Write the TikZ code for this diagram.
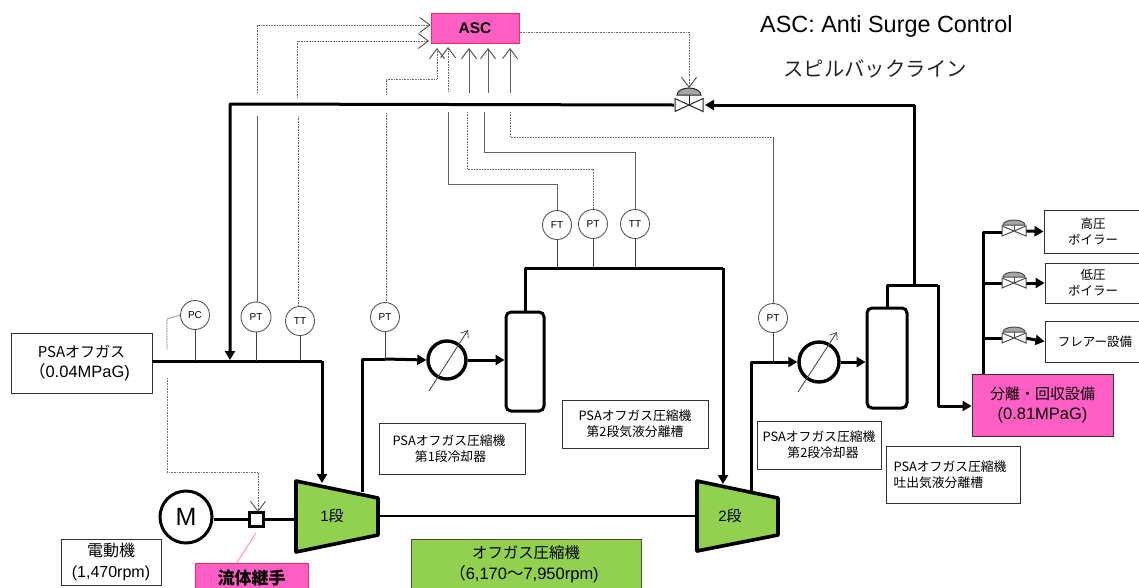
\documentclass[tikz,border=0pt]{standalone}
\usepackage{fontspec}
\setmainfont{Liberation Sans}
\newfontfamily\jp{Noto Sans CJK JP}
\usetikzlibrary{arrows.meta,calc}
\definecolor{pinkfill}{HTML}{FF5FC4}
\definecolor{redline}{HTML}{FF2A50}
\definecolor{greenfill}{HTML}{92D050}
\newcommand{\fs}[1]{\fontsize{#1}{#1}\selectfont}
\tikzset{
  pipe/.style={line width=3pt,line join=round,black},
  pipearrow/.style={pipe,-{Triangle[length=9pt,width=10pt]}},
  shaft/.style={line width=2.6pt,black},
  sigdot/.style={line width=.8pt,gray!85!black,dash pattern=on 1pt off .6pt},
  sigsolid/.style={line width=.8pt,gray!75!black},
  barb/.style={-{Straight Barb[length=10pt,width=15pt,line width=.9pt,black!70]}},
  stem/.style={line width=1pt,black!75},
  inst/.style={circle,draw=black!65,line width=.9pt,fill=white,minimum size=29pt,inner sep=0pt,font=\fs{10}},
  tag/.style={draw=black!80,line width=.9pt,fill=white,align=center,inner sep=0pt,font=\fs{12.8}\jp,execute at begin node={\baselineskip=16pt}},
  bigtag/.style={tag,font=\fs{16.5},execute at begin node={\baselineskip=20.5pt}},
  comp/.style={draw=black,line width=3.6pt,line join=round,fill=greenfill},
  hx/.style={circle,draw=black,line width=3.4pt,fill=white,minimum size=38pt,inner sep=0pt},
  vessel/.style={draw=black,line width=3pt,rounded corners=5pt,fill=white,inner sep=0pt},
  diag/.style={line width=.9pt,black!70,-{Straight Barb[length=6pt,width=9pt,line width=.8pt]}},
  pics/mainvalve/.style={code={
    \draw[line width=1pt,black!85,fill=white] (-14,-6.5) -- (14,6.5) -- (14,-6.5) -- (-14,6.5) -- cycle;
    \draw[line width=1pt,black!85] (0,0) -- (0,-10);
    \draw[line width=1pt,black!85,fill=black!35] (-12,-10) arc (180:0:12 and -7) -- cycle;
  }},
  pics/smallvalve/.style={code={
    \draw[line width=1pt,black!70,fill=white] (-12,-5) -- (12,5) -- (12,-5) -- (-12,5) -- cycle;
    \draw[line width=1pt,black!70] (0,0) -- (0,-6);
    \draw[line width=1pt,black!70,fill=black!35] (-11,-6) arc (180:0:11 and -5) -- cycle;
  }}
}
\begin{document}
\begin{tikzpicture}[x=1pt,y=-1pt]
\path[use as bounding box,clip] (0,0) rectangle (1139,587);

% titles
\node[anchor=west,inner sep=0pt,font=\fs{23.4}] (title) at (760,26) {ASC: Anti Surge Control};
\node[anchor=west,inner sep=0pt,font=\fs{20.4}\jp\color{black!85}] (spill) at (783,69) {スピルバックライン};

% equipment nodes
\node[draw=redline,line width=1pt,fill=pinkfill,minimum width=88pt,minimum height=30pt,inner sep=0pt,font=\fs{15.5}\bfseries] (asc) at (475,28) {ASC};
\node[bigtag,minimum width=141pt,minimum height=60pt] (psa) at (81.5,363) {{\jp\fs{15}PSAオフガス}\\{\jp\hspace{-4pt}（}0.04MPaG)};
\node[bigtag,minimum width=100pt,minimum height=46pt,font=\fs{16}] (motbox) at (111,562) {{\jp 電動機}\\(1,470rpm)};
\node[circle,draw=black,line width=3pt,fill=white,minimum size=52pt,inner sep=0pt,font=\fs{25}] (mot) at (186,517) {M};
\node[draw=black,line width=3pt,fill=white,minimum size=14pt,inner sep=0pt] (cpl) at (256,519.5) {};
\node[draw=redline,line width=1pt,fill=pinkfill,minimum width=113pt,minimum height=30pt,inner sep=0pt,font=\fs{17}\jp\bfseries] (fluid) at (251.5,578) {流体継手};

\node[inst] (pc) at (195,315) {PC};
\node[inst,minimum size=30pt] (pt1) at (256,317) {PT};
\node[inst] (tt1) at (300,321) {TT};
\node[inst] (pt2) at (385,317) {PT};
\node[inst] (ft) at (557,225) {FT};
\node[inst] (pt3) at (593,224) {PT};
\node[inst] (tt2) at (635,224) {TT};
\node[inst] (pt4) at (773,318) {PT};

\node[hx] (hx1) at (447,360) {};
\node[hx,minimum size=40pt] (hx2) at (819,362) {};
\node[vessel,minimum width=38pt,minimum height=99pt] (v1) at (525,361.5) {};
\node[vessel,minimum width=40pt,minimum height=100pt] (v2) at (887,358) {};

\node[tag,minimum width=146pt,minimum height=51pt] (tag1) at (452,448.5) {\hspace*{-6pt}PSAオフガス圧縮機\\第1段冷却器\hspace*{3pt}};
\node[tag,minimum width=146pt,minimum height=48pt] (tag2) at (635,424) {PSAオフガス圧縮機\\第2段気液分離槽};
\node[tag,minimum width=124pt,minimum height=48pt] (tag3) at (819,445) {PSAオフガス圧縮機\\\hspace*{8pt}第2段冷却器};
\node[tag,minimum width=134pt,minimum height=57pt,align=left] (tag4) at (953,474.5) {\hspace*{-6pt}PSAオフガス圧縮機\\\hspace*{-6pt}吐出気液分離槽};
\node[bigtag,fill=pinkfill,minimum width=141pt,minimum height=62pt] (sep) at (1042.5,405) {{\jp\fs{15}分離・回収設備}\\(0.81MPaG)};
\node[tag,minimum width=98pt,minimum height=43pt,font=\fs{12.5}\jp] (hb) at (1093,231.5) {高圧\\ボイラー};
\node[tag,minimum width=96pt,minimum height=40pt,font=\fs{12.5}\jp] (lb) at (1093,283) {低圧\\ボイラー};
\node[tag,minimum width=100pt,minimum height=41pt,font=\fs{12.5}\jp] (fl) at (1095,341.5) {フレアー設備};
\node[bigtag,draw=black!70,fill=greenfill,minimum width=230pt,minimum height=50pt] (mc) at (526,564) {{\jp\fs{15.4}オフガス圧縮機}\\{\jp\hspace{-4pt}（}6,170{\jp 〜}7,950rpm)};

% valves
\coordinate (vb) at (689,105);
\coordinate (vh) at (1014,231);
\coordinate (vl) at (1014,283);
\coordinate (vf) at (1014,338);

% shaft
\draw[shaft] (mot.east |- cpl) -- (cpl.west);
\draw[shaft] (cpl.east) -- (296,519.5);
\draw[shaft] (378,516) -- (697,516);

% compressors
\draw[comp] (296,481) -- (378,498) -- (378,535) -- (296,552) -- cycle;
\node[font=\fs{15}] (s1) at (332,516) {1{\jp 段}};
\draw[comp] (697,481) -- (778,498) -- (778,535) -- (697,551) -- cycle;
\node[font=\fs{15}] (s2) at (730,516) {2{\jp 段}};

% process pipes
\draw[pipe] (psa.east |- 0,361) -- (322,361);
\draw[pipearrow] (322,361) -- (322,483);
\draw[pipe] (362,492) -- (362,359) -- (385,359);
\draw[pipearrow] (385,359) -- (hx1.west);
\draw[pipearrow] (hx1.east) -- (v1.west |- hx1);
\draw[pipe] (v1.north) -- (v1.north |- 0,268) -- (723,268);
\draw[pipearrow] (723,268) -- (723,484);
\draw[pipe] (751,492) -- (751,362) -- (773,362);
\draw[pipearrow] (773,362) -- (hx2.west);
\draw[pipearrow] (hx2.east) -- (v2.west |- hx2);
\draw[pipe] (v2.north) -- (v2.north |- 0,285) -- (938,285);
\draw[pipearrow] (938,285) -- (938,406) -- (sep.west |- 0,406);
\draw[pipearrow] (914,285) -- (914,105) -- ($(vb)+(16,0)$);
\draw[pipearrow] ($(vb)+(-15,0)$) -- (230,104) -- (230,360);
\draw[pipe] (983,374) -- (983,232) -- ($(vh)+(-11,1)$);
\draw[pipe] (983,283) -- ($(vl)+(-11,0)$);
\draw[pipe] (983,338) -- ($(vf)+(-11,0)$);
\draw[pipearrow] ($(vh)+(11,0)$) -- (hb.west);
\draw[pipearrow] ($(vl)+(11,0)$) -- (lb.west);
\draw[pipearrow] ($(vf)+(11,0)$) -- (fl.west);

\pic at (vb) {mainvalve};
\pic at (vh) {smallvalve};
\pic at (vl) {smallvalve};
\pic at (vf) {smallvalve};

% exchanger adjusters
\draw[diag] (429,391) -- (468,330);
\draw[diag] (798,392) -- (837,332);

% instrument stems
\draw[stem] (pc.south) -- (pc |- 0,361);
\draw[stem] (pt1.south) -- (pt1 |- 0,361);
\draw[stem] (tt1.south) -- (tt1 |- 0,361);
\draw[stem] (pt2.south) -- (pt2 |- 0,359);
\draw[stem] (ft.south) -- (ft |- 0,268);
\draw[stem] (pt3.south) -- (pt3 |- 0,268);
\draw[stem] (tt2.south) -- (tt2 |- 0,268);
\draw[stem] (pt4.south) -- (pt4 |- 0,362);

% signal lines to ASC
\draw[sigsolid] (257,116) -- (pt1.north -| 257,0);
\draw[sigdot] (298,116) -- (298,306);
\draw[sigdot] (386,113) -- (386,302);
\draw[sigdot,barb] (257,93) -- (257,25) -- (asc.west |- 0,25);
\draw[sigdot,barb] (297,98) -- (297,41) -- (429,41);
\draw[sigdot,barb] (386,95) -- (386,79) -- (437,79) -- (437,48);
\draw[sigdot,barb] (448,92) -- (448,47);
\draw[sigsolid,barb] (469,93) -- (469,48);
\draw[sigsolid,barb] (488,93) -- (488,48);
\draw[sigsolid,barb] (510,93) -- (510,48);
\draw[sigsolid] (448,112) -- (448,184) -- (557,184) -- (557,210);
\draw[sigdot] (467,112) -- (467,169) -- (593,169) -- (593,209);
\draw[sigsolid] (484,112) -- (484,152) -- (635,152) -- (635,209);
\draw[sigdot] (510,112) -- (510,137) -- (773,137);
\draw[sigsolid] (773,137) -- (pt4.north);
\draw[sigdot,barb] (asc.east |- 0,32) -- (689,32) -- (689,88);

% signal line from PC
\draw[sigdot] (pc.west) -- (167,319) -- (167,350);
\draw[sigdot,barb] (167,378) -- (167,472) -- (258,472) -- (258,512);

% pink leader
\draw[pinkfill!70,line width=1pt] (256,533) -- (fluid.north -| 237,0);
\end{tikzpicture}
\end{document}
